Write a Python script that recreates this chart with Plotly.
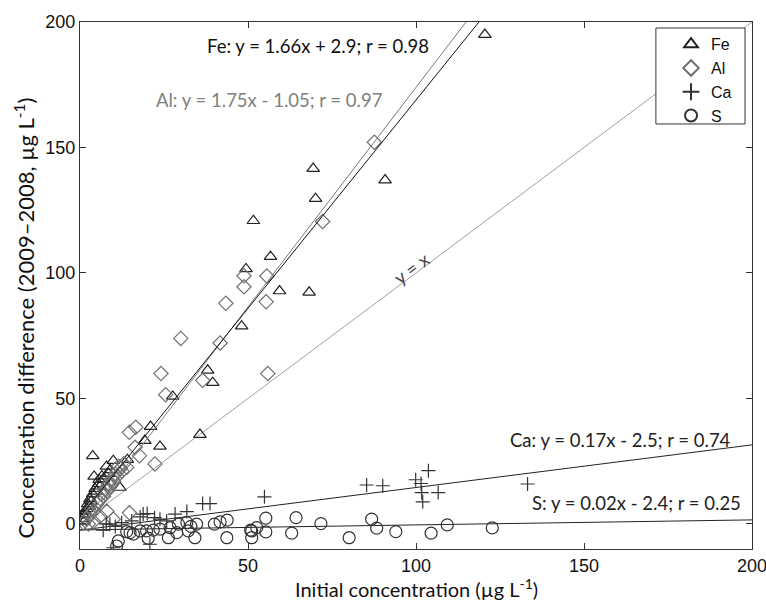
import plotly.graph_objects as go

# ---- data ----
fe_x = [120.5, 69.4, 70.1, 90.8, 51.6, 56.7, 49.4, 59.4, 68.2, 48.1, 38.0, 39.5, 27.6, 21.0,
        19.3, 23.8, 35.7, 3.8, 4.2, 5.7, 7.9, 9.9, 11.9, 14.1,
        0.5, 1.0, 1.5, 2.0, 2.3, 2.8, 3.0, 3.3, 3.8, 4.5, 5.0, 5.5, 6.0, 6.5, 7.0, 1.2, 0.8, 8.5, 9.0]
fe_y = [195.0, 141.6, 129.6, 137.0, 120.8, 106.5, 101.6, 92.8, 92.3, 78.8, 61.2, 56.3, 50.8, 38.8,
        33.2, 30.9, 35.6, 27.1, 18.9, 17.6, 22.9, 25.2, 14.5, 25.6,
        2.0, 3.5, 5.0, 6.0, 8.0, 7.0, 10.0, 9.0, 12.0, 14.0, 13.0, 16.0, 15.0, 19.0, 18.0, 1.0, 4.0, 20.0, 21.5]

al_x = [87.6, 72.2, 48.8, 48.8, 55.6, 55.4, 43.4, 30.0, 41.7, 55.9, 24.1, 36.5, 25.5, 16.6,
        14.7, 16.4, 17.7, 22.3, 13.9, 14.7, 9.9,
        1.0, 2.0, 3.0, 3.5, 4.0, 5.0, 5.5, 6.0, 6.5, 7.0, 7.5, 8.0, 8.5, 9.0, 9.5, 10.0, 10.5,
        11.0, 12.0, 12.5, 13.0, 11.5, 2.5, 4.0, 6.0, 8.0]
al_y = [152.1, 120.5, 98.9, 94.5, 98.8, 88.5, 87.9, 73.9, 72.1, 59.9, 59.9, 57.2, 51.5, 38.5,
        36.5, 30.5, 27.2, 23.9, 22.5, 4.4, 1.9,
        0.5, 2.0, 4.0, 6.0, 5.0, 8.0, 9.0, 10.0, 12.0, 11.0, 14.0, 13.0, 16.0, 15.0, 18.0, 17.0, 20.0,
        19.0, 22.0, 21.0, 24.0, 23.0, 0.0, 1.0, 3.0, 5.0]

ca_x = [103.7, 99.9, 101.5, 85.3, 90.1, 106.6, 101.7, 102.0, 133.2, 54.9, 36.5, 38.7, 31.8,
        20.0, 17.9, 28.3, 8.9, 6.9, 9.9, 20.8, 15.4, 12.4, 23.8, 25.8, 22.2, 18.8, 7.8, 10.5]
ca_y = [21.2, 17.6, 16.1, 15.5, 15.2, 12.5, 12.5, 8.8, 15.9, 10.8, 8.1, 8.1, 4.9,
        4.1, 2.8, 3.9, -0.1, -2.5, -9.5, -8.1, 1.2, 0.5, 1.9, 1.2, 2.5, 3.9, 0.0, -1.0]

s_x = [55.3, 55.3, 64.3, 63.0, 71.7, 80.1, 86.8, 88.3, 94.0, 104.5, 109.3, 122.7, 52.6, 51.1,
       51.1, 43.8, 41.7, 40.0, 43.7, 50.8, 34.2, 34.7, 31.8, 29.3, 26.8, 23.8, 21.8, 19.8,
       26.3, 20.3, 14.9, 15.9, 13.9, 11.4, 10.9, 17.9, 28.8, 32.2, 33.0]
s_y = [2.3, -3.2, 2.5, -3.7, 0.1, -5.5, 1.9, -1.7, -3.1, -3.7, -0.4, -1.6, -1.5, -2.8,
       -5.5, 1.5, 0.8, -0.1, -5.5, -2.5, -5.5, -0.1, 0.5, -0.1, -1.5, -2.1, -2.5, -2.8,
       -5.5, -5.7, -3.5, -4.1, -3.1, -6.8, -8.8, -2.8, -3.5, -2.8, -1.0]

# regression coefficients (slope, intercept) as printed on the chart
fe_fit = (1.66, 2.9)
al_fit = (1.75, -1.05)
ca_fit = (0.17, -2.5)
s_fit = (0.02, -2.4)
line_x = [0, 200]
tick_vals = [0, 50, 100, 150, 200]

fig = go.Figure()

def fit_line(coef, color):
    a, b = coef
    fig.add_trace(go.Scatter(x=line_x, y=[a * v + b for v in line_x], mode="lines",
                             line=dict(color=color, width=1), showlegend=False,
                             hoverinfo="skip"))

fit_line((1.0, 0.0), "#a0a0a0")
fit_line(ca_fit, "#222222")
fit_line(s_fit, "#222222")

fig.add_trace(go.Scatter(x=fe_x, y=fe_y, mode="markers", name="Fe",
                         marker=dict(symbol="triangle-up-open", size=11, color="#222222",
                                     line=dict(width=1.2))))
fig.add_trace(go.Scatter(x=al_x, y=al_y, mode="markers", name="Al",
                         marker=dict(symbol="diamond-open", size=11, color="#707070",
                                     line=dict(width=1.2))))
fig.add_trace(go.Scatter(x=ca_x, y=ca_y, mode="markers", name="Ca",
                         marker=dict(symbol="cross-thin-open", size=10, color="#333333",
                                     line=dict(width=1.2, color="#333333"))))
fig.add_trace(go.Scatter(x=s_x, y=s_y, mode="markers", name="S",
                         marker=dict(symbol="circle-open", size=12, color="#333333",
                                     line=dict(width=1.2))))

fit_line(al_fit, "#7a7a7a")
fit_line(fe_fit, "#111111")

ann_font = "Lato, 'Open Sans', sans-serif"
annotations = [
    dict(x=70.8, y=190.4, text="Fe: y = 1.66x + 2.9; r = 0.98", color="#111111"),
    dict(x=56.2, y=168.8, text="Al: y = 1.75x - 1.05; r = 0.97", color="#808080"),
    dict(x=160.9, y=33.6, text="Ca: y = 0.17x - 2.5; r = 0.74", color="#222222"),
    dict(x=165.5, y=8.4, text="S: y = 0.02x - 2.4; r = 0.25", color="#222222"),
]
for a in annotations:
    fig.add_annotation(x=a["x"], y=a["y"], text=a["text"], showarrow=False,
                       font=dict(family=ann_font, size=18.5, color=a["color"]))
fig.add_annotation(x=98.8, y=102, text="y = x", showarrow=False, textangle=-36.6,
                   font=dict(family=ann_font, size=18.5, color="#444444"))

# axis titles
fig.add_annotation(xref="paper", yref="paper", x=0.5, y=-0.074, yanchor="middle",
                   text="Initial concentration (µg L<sup>-1</sup>)", showarrow=False,
                   font=dict(family=ann_font, size=20, color="#111111"))
fig.add_annotation(xref="paper", yref="paper", x=-0.083, y=0.438, xanchor="center",
                   yanchor="middle", textangle=-90,
                   text="Concentration difference (2009\u20132008, µg L<sup>-1</sup>)",
                   showarrow=False,
                   font=dict(family=ann_font, size=22, color="#111111"))

# legend frame (opaque box behind the legend entries)
fig.add_shape(type="rect", xref="paper", yref="paper", x0=0.857, x1=0.9896,
              y0=0.8065, y1=0.9886, fillcolor="white", layer="above",
              line=dict(color="#333333", width=1))

axis_common = dict(showline=True, linecolor="#333333", linewidth=1, mirror="ticks",
                   ticks="inside", ticklen=6, tickcolor="#333333", showgrid=False,
                   zeroline=False, automargin=False, tickvals=tick_vals,
                   tickfont=dict(family="Liberation Sans, Arial, sans-serif", size=18,
                                 color="#111111"))

fig.update_layout(
    width=766, height=606,
    margin=dict(l=80, r=14, t=22, b=57),
    paper_bgcolor="white", plot_bgcolor="white",
    xaxis=dict(range=[0, 200], ticklabeloverflow="allow", **axis_common),
    yaxis=dict(range=[-10, 200], **axis_common),
    legend=dict(x=0.8795, y=0.99, xanchor="left", yanchor="top",
                bgcolor="rgba(0,0,0,0)", borderwidth=0,
                font=dict(family="Liberation Sans, Arial, sans-serif", size=16,
                          color="#111111"),
                itemsizing="constant", tracegroupgap=0),
)

fig.write_html("out.html", config={"displayModeBar": False},
               post_script="document.body.style.margin='0';")
